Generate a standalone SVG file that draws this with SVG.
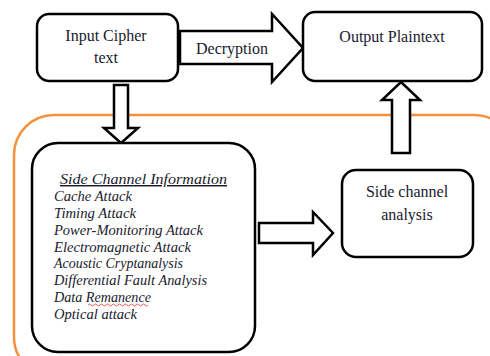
<svg xmlns="http://www.w3.org/2000/svg" width="490" height="356" viewBox="0 0 490 356">
<style>
.box{fill:#fff;stroke:#000;stroke-width:2.5}
.arrow{fill:#fff;stroke:#000;stroke-width:2.5;stroke-linejoin:miter}
.t{font-family:"Liberation Serif",serif;font-size:16px;fill:#1a1a2e}
.i{font-family:"Liberation Serif",serif;font-style:italic;font-size:14.5px;fill:#1a1a2e}
</style>
<rect width="490" height="356" fill="#fff"/>
<rect x="14" y="115" width="500" height="262" rx="40" fill="none" stroke="#F4913D" stroke-width="2.5"/>
<g id="connectors">
<polygon class="arrow" points="180,31 272,31 272,14 303,48 272,82 272,64 180,64"/>
<polygon class="arrow" points="114,85 128,85 128,128 138,128 121,143 104,128 114,128"/>
<polygon class="arrow" points="259,223 313,223 313,212 333,233 313,255 313,243 259,243"/>
<polygon class="arrow" points="392,153 410,153 410,100 420,100 401,82 382,100 392,100"/>
<text class="t" x="232" y="54" text-anchor="middle">Decryption</text>
</g>
<g id="input">
<rect class="box" x="37" y="14" width="141" height="67" rx="12"/>
<text class="t" x="106" y="41" text-anchor="middle">Input Cipher</text>
<text class="t" x="106" y="63" text-anchor="middle">text</text>
</g>
<g id="output">
<rect class="box" x="303" y="12" width="179" height="69" rx="12"/>
<text class="t" x="392" y="42" text-anchor="middle">Output Plaintext</text>
</g>
<g id="sci">
<rect class="box" x="32" y="143" width="223" height="209" rx="26"/>
<text class="i" x="60" y="184" font-size="16" textLength="167" lengthAdjust="spacingAndGlyphs" text-decoration="underline">Side Channel Information</text>
<text class="i" x="54" y="201" textLength="78" lengthAdjust="spacingAndGlyphs">Cache Attack</text>
<text class="i" x="54" y="218" textLength="82" lengthAdjust="spacingAndGlyphs">Timing Attack</text>
<text class="i" x="54" y="235" textLength="149" lengthAdjust="spacingAndGlyphs">Power-Monitoring  Attack</text>
<text class="i" x="54" y="252" textLength="137" lengthAdjust="spacingAndGlyphs">Electromagnetic  Attack</text>
<text class="i" x="54" y="268" textLength="129" lengthAdjust="spacingAndGlyphs">Acoustic Cryptanalysis</text>
<text class="i" x="54" y="285" textLength="153" lengthAdjust="spacingAndGlyphs">Differential  Fault Analysis</text>
<text class="i" x="54" y="302" textLength="97" lengthAdjust="spacingAndGlyphs">Data Remanence</text>
<path d="M88,305 q1.5,-2 3,0 t3,0 t3,0 t3,0 t3,0 t3,0 t3,0 t3,0 t3,0 t3,0 t3,0 t3,0 t3,0 t3,0 t3,0 t3,0 t3,0 t3,0 t3,0 t3,0" fill="none" stroke="#e03030" stroke-width="0.8"/>
<text class="i" x="54" y="319" textLength="83" lengthAdjust="spacingAndGlyphs">Optical attack</text>
</g>
<g id="sca">
<rect class="box" x="342" y="170" width="131" height="87" rx="14"/>
<text class="t" x="407" y="197" text-anchor="middle">Side channel</text>
<text class="t" x="407" y="220" text-anchor="middle">analysis</text>
</g>
</svg>
